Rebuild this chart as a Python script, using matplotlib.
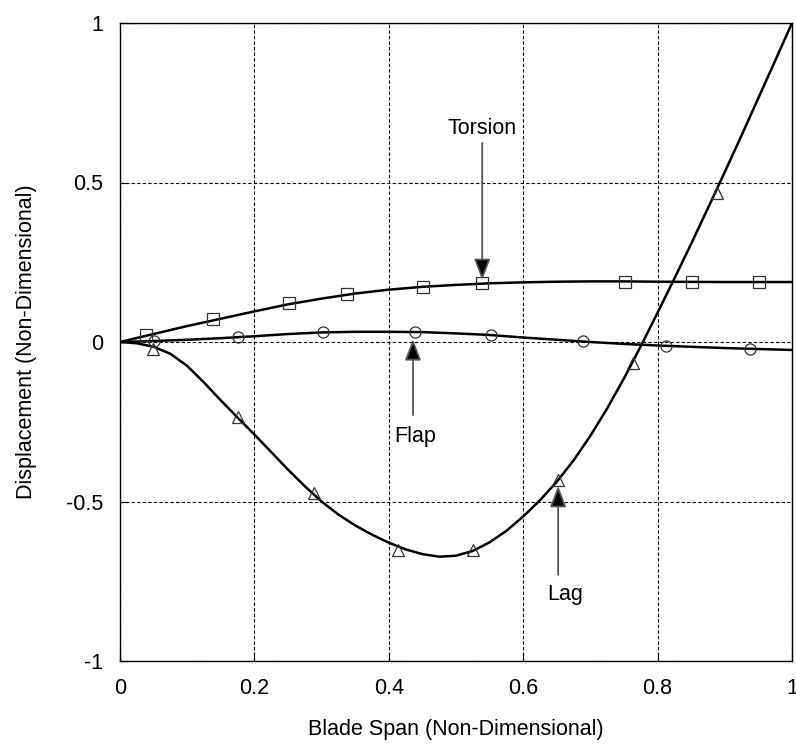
import matplotlib
matplotlib.use("Agg")
import matplotlib.pyplot as plt

plt.rcParams['font.family'] = ['Liberation Sans', 'DejaVu Sans']

# ---- data ----
# smooth curves
torsion_x = [0, 0.04, 0.1, 0.15, 0.2, 0.25, 0.3, 0.35, 0.4, 0.45, 0.5, 0.55, 0.6, 0.65, 0.7, 0.75, 0.8, 0.9, 1.0]
torsion_y = [0, 0.02, 0.05, 0.073, 0.096, 0.118, 0.136, 0.152, 0.164, 0.173, 0.179, 0.184, 0.187, 0.189, 0.19, 0.19, 0.189, 0.188, 0.188]

flap_x = [0, 0.05, 0.1, 0.15, 0.2, 0.25, 0.3, 0.35, 0.4, 0.45, 0.5, 0.55, 0.6, 0.65, 0.7, 0.75, 0.8, 0.85, 0.9, 0.95, 1.0]
flap_y = [0, 0.003, 0.007, 0.012, 0.018, 0.025, 0.03, 0.032, 0.032, 0.031, 0.027, 0.022, 0.014, 0.007, 0.0, -0.006, -0.011, -0.015, -0.019, -0.022, -0.025]

lag_x = [0, 0.025, 0.05, 0.075, 0.1, 0.125, 0.15, 0.175, 0.2, 0.225, 0.25, 0.275, 0.3, 0.325,
         0.35, 0.375, 0.4, 0.425, 0.45, 0.475, 0.5, 0.525, 0.55, 0.575, 0.6, 0.625, 0.65, 0.675,
         0.7, 0.725, 0.75, 0.775, 0.8, 0.825, 0.85, 0.875, 0.9, 0.925, 0.95, 0.975, 1.0]
lag_y = [0, -0.004, -0.015, -0.037, -0.075, -0.127, -0.183, -0.237, -0.290, -0.345, -0.400, -0.452, -0.500, -0.541,
         -0.575, -0.604, -0.629, -0.650, -0.665, -0.673, -0.670, -0.655, -0.628, -0.592, -0.547, -0.496, -0.438, -0.371,
         -0.294, -0.208, -0.114, -0.013, 0.092, 0.199, 0.308, 0.420, 0.533, 0.648, 0.765, 0.882, 1.0]

# markers
torsion_mx = [0.039, 0.138, 0.251, 0.338, 0.451, 0.539, 0.751, 0.851, 0.951]
torsion_my = [0.022, 0.072, 0.122, 0.150, 0.172, 0.185, 0.188, 0.188, 0.188]

flap_mx = [0.051, 0.176, 0.302, 0.439, 0.552, 0.689, 0.8125, 0.9375]
flap_my = [0.003, 0.016, 0.031, 0.031, 0.022, 0.003, -0.012, -0.022]

lag_mx = [0.049, 0.176, 0.289, 0.414, 0.525, 0.652, 0.763, 0.888]
lag_my = [-0.022, -0.235, -0.473, -0.652, -0.652, -0.433, -0.066, 0.467]

x_ticks = [0, 0.2, 0.4, 0.6, 0.8, 1]
x_ticklabels = ['0', '0.2', '0.4', '0.6', '0.8', '1']
y_ticks = [-1, -0.5, 0, 0.5, 1]
y_ticklabels = ['-1', '-0.5', '0', '0.5', '1']

# annotations: label, text pos, arrow tail, arrow tip
ann_labels = ['Torsion', 'Flap', 'Lag']
ann_text_xy = [(0.539, 0.668), (0.440, -0.295), (0.662, -0.790)]
ann_tail_xy = [(0.539, 0.624), (0.436, -0.229), (0.652, -0.730)]
ann_tip_xy = [(0.539, 0.194), (0.436, 0.009), (0.652, -0.451)]

# ---- figure ----
fig = plt.figure(figsize=(7.96, 7.48), dpi=100)
ax = fig.add_axes([120/796, 1-661/748, 672/796, 638/748])

ax.set_xlim(0, 1)
ax.set_ylim(-1, 1)
ax.set_xticks(x_ticks)
ax.set_xticklabels(x_ticklabels)
ax.set_yticks(y_ticks)
ax.set_yticklabels(y_ticklabels)
ax.tick_params(direction='in', length=6, width=0.8, labelsize=15.5, pad=12)
ax.tick_params(axis='x', pad=12)
ax.grid(True, color='black', linestyle=(0, (3, 2)), linewidth=0.8)
for s in ax.spines.values():
    s.set_linewidth(1.0)
    s.set_color('black')

lw = 1.8
ax.plot(torsion_x, torsion_y, color='black', lw=lw, zorder=3)
ax.plot(flap_x, flap_y, color='black', lw=lw, zorder=3)
ax.plot(lag_x, lag_y, color='black', lw=lw, zorder=3)

mk = dict(linestyle='none', fillstyle='none', markeredgecolor='#333333', markeredgewidth=0.9, zorder=4)
ax.plot(torsion_mx, torsion_my, marker='s', markersize=8.5, **mk)
ax.plot(flap_mx, flap_my, marker='o', markersize=8, **mk)
ax.plot(lag_mx, lag_my, marker='^', markersize=9, **mk)

for lab, txy, tail, tip in zip(ann_labels, ann_text_xy, ann_tail_xy, ann_tip_xy):
    ax.text(txy[0], txy[1], lab, ha='center', va='center', fontsize=15.5, zorder=5)
    ax.annotate('', xy=tip, xytext=tail,
                arrowprops=dict(arrowstyle='-|>,head_length=0.65,head_width=0.25',
                                mutation_scale=20, ec='#555555', fc='black', lw=1.3,
                                shrinkA=0, shrinkB=0), zorder=5)

ax.set_xlabel('Blade Span (Non-Dimensional)', fontsize=15.5, labelpad=15)
ax.set_ylabel('Displacement (Non-Dimensional)', fontsize=15.5, labelpad=21)

fig.savefig('out.png', dpi=100)
